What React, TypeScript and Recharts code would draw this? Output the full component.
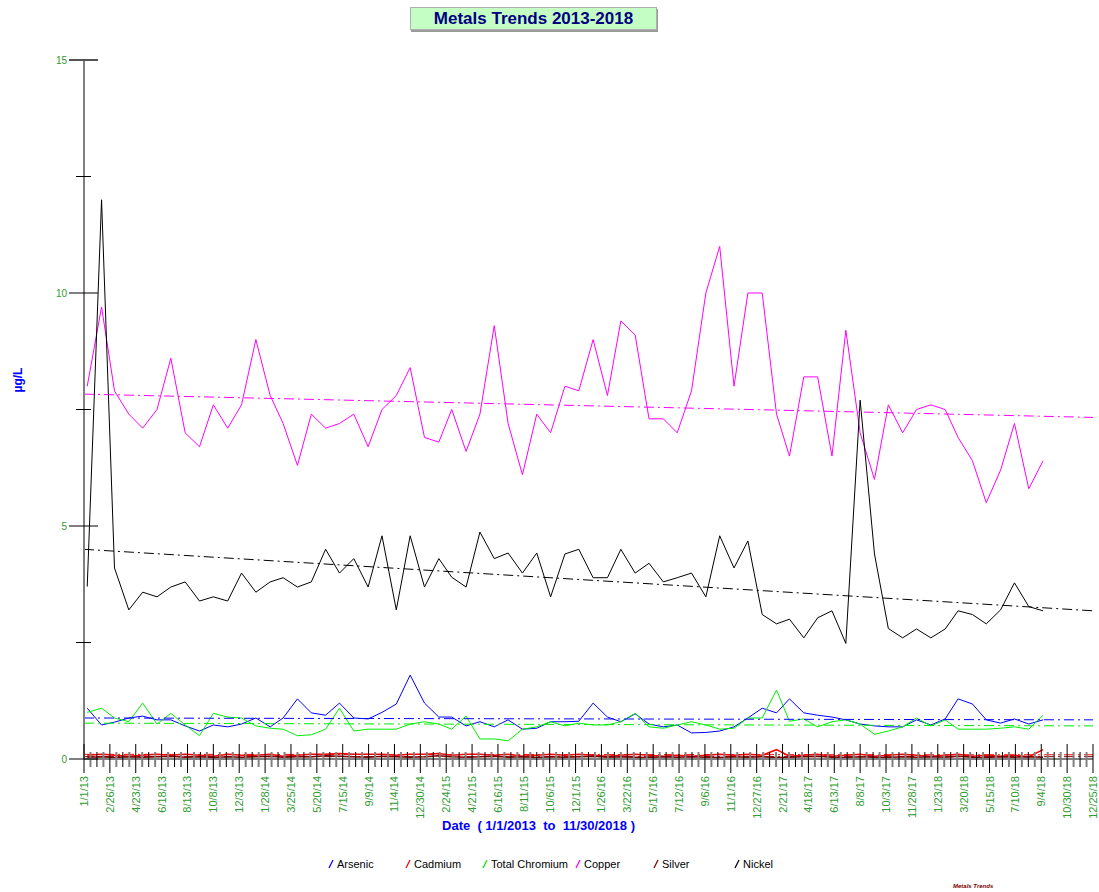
import React from 'react';
import { LineChart, Line, XAxis, YAxis } from 'recharts';

// monthly samples Jan 2013 .. Sep 2018
const SAMPLE_COUNT = 69;

const arsenic = [
  1.09, 0.73, 0.79, 0.88, 0.92, 0.84, 0.84, 0.71, 0.6, 0.73, 0.69, 0.75,
  0.88, 0.69, 0.88, 1.29, 0.99, 0.94, 1.2, 0.88, 0.86, 1.0, 1.18, 1.8,
  1.2, 0.9, 0.9, 0.71, 0.8, 0.69, 0.84, 0.64, 0.66, 0.8, 0.8, 0.81,
  1.2, 0.9, 0.8, 0.97, 0.75, 0.69, 0.73, 0.56, 0.57, 0.6, 0.69, 0.88,
  1.09, 0.99, 1.29, 0.99, 0.94, 0.9, 0.84, 0.75, 0.71, 0.69, 0.69, 0.84,
  0.73, 0.86, 1.29, 1.18, 0.84, 0.77, 0.86, 0.75, 0.84,
];

const cadmium = [
  0.08, 0.1, 0.08, 0.06, 0.08, 0.1, 0.08, 0.1, 0.08, 0.06, 0.1, 0.08,
  0.08, 0.1, 0.06, 0.08, 0.1, 0.1, 0.12, 0.1, 0.1, 0.1, 0.08, 0.1,
  0.1, 0.12, 0.08, 0.1, 0.1, 0.08, 0.1, 0.06, 0.08, 0.1, 0.08, 0.1,
  0.08, 0.06, 0.08, 0.1, 0.08, 0.06, 0.08, 0.06, 0.08, 0.1, 0.08, 0.1,
  0.08, 0.2, 0.06, 0.08, 0.1, 0.06, 0.08, 0.1, 0.06, 0.08, 0.1, 0.08,
  0.06, 0.08, 0.1, 0.06, 0.08, 0.06, 0.08, 0.05, 0.2,
];

const chromium = [
  1.0, 1.09, 0.88, 0.8, 1.2, 0.75, 0.98, 0.73, 0.5, 0.98, 0.9, 0.88,
  0.71, 0.66, 0.64, 0.5, 0.52, 0.64, 1.09, 0.6, 0.64, 0.64, 0.64, 0.75,
  0.8, 0.75, 0.64, 0.92, 0.43, 0.43, 0.39, 0.64, 0.69, 0.8, 0.71, 0.77,
  0.73, 0.73, 0.8, 0.98, 0.69, 0.66, 0.73, 0.8, 0.73, 0.64, 0.66, 0.88,
  0.88, 1.48, 0.81, 0.86, 0.69, 0.8, 0.84, 0.75, 0.53, 0.6, 0.69, 0.88,
  0.71, 0.84, 0.64, 0.64, 0.64, 0.66, 0.69, 0.64, 0.94,
];

const copper = [
  8.0, 9.7, 7.9, 7.4, 7.1, 7.5, 8.6, 7.0, 6.7, 7.6, 7.1, 7.6,
  9.0, 7.8, 7.2, 6.3, 7.4, 7.1, 7.2, 7.4, 6.7, 7.5, 7.8, 8.4,
  6.9, 6.8, 7.5, 6.6, 7.4, 9.3, 7.2, 6.1, 7.4, 7.0, 8.0, 7.9,
  9.0, 7.8, 9.4, 9.1, 7.3, 7.3, 7.0, 7.9, 10.0, 11.0, 8.0, 10.0,
  10.0, 7.4, 6.5, 8.2, 8.2, 6.5, 9.2, 7.0, 6.0, 7.6, 7.0, 7.5,
  7.6, 7.5, 6.9, 6.4, 5.5, 6.2, 7.2, 5.8, 6.4,
];

const silver = [
  0.04, 0.05, 0.03, 0.05, 0.04, 0.05, 0.06, 0.04, 0.05, 0.03, 0.05, 0.04,
  0.05, 0.06, 0.04, 0.05, 0.05, 0.07, 0.06, 0.05, 0.04, 0.06, 0.05, 0.04,
  0.05, 0.07, 0.05, 0.04, 0.05, 0.06, 0.04, 0.05, 0.03, 0.05, 0.04, 0.05,
  0.06, 0.04, 0.05, 0.04, 0.03, 0.05, 0.04, 0.05, 0.04, 0.03, 0.05, 0.04,
  0.05, 0.03, 0.04, 0.05, 0.06, 0.04, 0.03, 0.05, 0.04, 0.03, 0.05, 0.04,
  0.05, 0.04, 0.06, 0.04, 0.03, 0.05, 0.04, 0.05, 0.04,
];

const nickel = [
  3.7, 12.0, 4.1, 3.2, 3.58, 3.48, 3.69, 3.8, 3.39, 3.48, 3.39, 3.99,
  3.58, 3.8, 3.89, 3.69, 3.8, 4.5, 3.99, 4.3, 3.69, 4.79, 3.2, 4.79,
  3.69, 4.3, 3.9, 3.69, 4.87, 4.3, 4.42, 3.99, 4.42, 3.48, 4.4, 4.5,
  3.89, 3.89, 4.5, 3.99, 4.2, 3.8, 3.89, 3.99, 3.48, 4.79, 4.1, 4.68,
  3.1, 2.9, 3.0, 2.6, 3.03, 3.18, 2.48, 7.7, 4.4, 2.8, 2.6, 2.79,
  2.6, 2.79, 3.18, 3.1, 2.9, 3.2, 3.78, 3.27, 3.18,
];

// trend line end points [start, end] over the full axis range
const arsenicTrend = [0.88, 0.84];
const cadmiumTrend = [0.1, 0.09];
const chromiumTrend = [0.77, 0.71];
const copperTrend = [7.83, 7.33];
const silverTrend = [0.05, 0.05];
const nickelTrend = [4.5, 3.18];

const TICK_LABELS = [
  '1/1/13', '2/26/13', '4/23/13', '6/18/13', '8/13/13', '10/8/13', '12/3/13',
  '1/28/14', '3/25/14', '5/20/14', '7/15/14', '9/9/14', '11/4/14', '12/30/14',
  '2/24/15', '4/21/15', '6/16/15', '8/11/15', '10/6/15', '12/1/15',
  '1/26/16', '3/22/16', '5/17/16', '7/12/16', '9/6/16', '11/1/16', '12/27/16',
  '2/21/17', '4/18/17', '6/13/17', '8/8/17', '10/3/17', '11/28/17',
  '1/23/18', '3/20/18', '5/15/18', '7/10/18', '9/4/18', '10/30/18', '12/25/18',
];
const Y_TICKS = [0, 2.5, 5, 7.5, 10, 12.5, 15];

const TICK_STEP = 14;
const LAST_DAY = (TICK_LABELS.length - 1) * 56;
const X_TICKS = Array.from({ length: LAST_DAY / TICK_STEP + 1 }, (_, i) => i * TICK_STEP);

const DAY_MS = 86400000;
const dayOf = (i: number) => (Date.UTC(2013, i, 8) - Date.UTC(2013, 0, 1)) / DAY_MS;

const series = [
  { key: 'arsenic', name: 'Arsenic', color: '#0000ff', values: arsenic, trend: arsenicTrend },
  { key: 'cadmium', name: 'Cadmium', color: '#ff0000', values: cadmium, trend: cadmiumTrend },
  { key: 'chromium', name: 'Total Chromium', color: '#00ee00', values: chromium, trend: chromiumTrend },
  { key: 'copper', name: 'Copper', color: '#ff00ff', values: copper, trend: copperTrend },
  { key: 'silver', name: 'Silver', color: '#800000', values: silver, trend: silverTrend },
  { key: 'nickel', name: 'Nickel', color: '#000000', values: nickel, trend: nickelTrend },
];

// trend end rows at both ends of the axis, sample rows in between
const trendRow = (day: number, end: number) => {
  const row: Record<string, number> = { day };
  series.forEach((s) => (row[s.key + 'Trend'] = s.trend[end]));
  return row;
};

const data = [
  trendRow(0, 0),
  ...Array.from({ length: SAMPLE_COUNT }, (_, i) => {
    const row: Record<string, number> = { day: dayOf(i) };
    series.forEach((s) => (row[s.key] = s.values[i]));
    return row;
  }),
  trendRow(LAST_DAY, 1),
];

const legendX = [328, 405, 482, 575, 653, 734];

const PLOT_LEFT = 84;
const LABEL_GREEN = '#2f9a2f';
const FONT = 'Liberation Sans, Arial, sans-serif';

const XTick = (props: any) => {
  const { x, y, index } = props;
  const major = index % 4 === 0;
  const label = major ? TICK_LABELS[index / 4] : null;
  return (
    <g>
      {major ? (
        <line x1={x} x2={x} y1={y - 15} y2={y + 14} stroke="#000" strokeWidth={1} />
      ) : (
        <line x1={x} x2={x} y1={y - 7} y2={y + 8} stroke={index % 2 === 0 ? '#000' : '#808080'} strokeWidth={index % 2 === 0 ? 1 : 2} />
      )}
      {label && (
        <text
          x={x + 4}
          y={y + 17}
          transform={`rotate(-90, ${x + 4}, ${y + 17})`}
          textAnchor="end"
          fontSize={11}
          fontFamily={FONT}
          fill={LABEL_GREEN}
        >
          {label}
        </text>
      )}
    </g>
  );
};

const YTick = (props: any) => {
  const { y, payload } = props;
  const v = payload.value;
  const major = v % 5 === 0;
  return (
    <g>
      {major ? (
        <line x1={PLOT_LEFT - 15} x2={PLOT_LEFT + 14} y1={y} y2={y} stroke={v === 15 ? '#555' : '#000'} strokeWidth={v === 15 ? 2 : 1} />
      ) : (
        <line x1={PLOT_LEFT - 8} x2={PLOT_LEFT + 7} y1={y} y2={y} stroke="#000" strokeWidth={1} />
      )}
      {major && (
        <text x={PLOT_LEFT - 17} y={y + 4} textAnchor="end" fontSize={10} fontFamily={FONT} fill={LABEL_GREEN}>
          {v}
        </text>
      )}
    </g>
  );
};

export default function App() {
  return (
    <div style={{ position: 'absolute', left: 0, top: 0, width: 1099, height: 892, background: '#fff', fontFamily: FONT }}>
      <div
        style={{
          position: 'absolute',
          left: 410,
          top: 7,
          width: 245,
          height: 21,
          background: '#c4fec4',
          border: '1px solid #b0b0b0',
          boxShadow: '1px 2px 0 #9a9a9a',
          textAlign: 'center',
          lineHeight: '21px',
          fontFamily: '"Liberation Sans Narrow", Arial, sans-serif',
          fontWeight: 'bold',
          fontSize: 17,
          color: '#000080',
        }}
      >
        Metals Trends 2013-2018
      </div>

      <LineChart width={1099} height={892} data={data} margin={{ top: 60, right: 6, bottom: 73, left: 0 }}>
        <XAxis
          dataKey="day"
          type="number"
          domain={[0, LAST_DAY]}
          ticks={X_TICKS}
          interval={0}
          tick={(p: any) => <XTick {...p} />}
          tickLine={false}
          tickSize={0}
          tickMargin={0}
          height={60}
          axisLine={{ stroke: '#808080', strokeWidth: 2 }}
        />
        <YAxis
          type="number"
          domain={[0, 15]}
          ticks={Y_TICKS}
          interval={0}
          tick={(p: any) => <YTick {...p} />}
          tickLine={false}
          tickSize={0}
          width={84}
          axisLine={{ stroke: '#808080', strokeWidth: 2 }}
        />
        {series.map((s) => (
          <Line
            key={s.key}
            dataKey={s.key}
            stroke={s.color}
            strokeWidth={s.key === 'cadmium' || s.key === 'silver' ? 1.5 : 1}
            connectNulls
            dot={false}
            isAnimationActive={false}
          />
        ))}
        {series.map((s) => (
          <Line
            key={s.key + '-trend'}
            dataKey={s.key + 'Trend'}
            stroke={s.color}
            strokeWidth={1}
            strokeDasharray="10 4 2 4"
            connectNulls
            dot={false}
            isAnimationActive={false}
          />
        ))}
      </LineChart>

      <div
        style={{
          position: 'absolute',
          left: 4,
          top: 380,
          transform: 'translate(-50%, -50%) rotate(-90deg)',
          marginLeft: 14,
          color: '#0000ff',
          fontWeight: 'bold',
          fontSize: 12,
          whiteSpace: 'nowrap',
        }}
      >
        µg/L
      </div>

      <div
        style={{
          position: 'absolute',
          left: 0,
          width: 1077,
          top: 818,
          textAlign: 'center',
          color: '#0000ff',
          fontWeight: 'bold',
          fontSize: 13,
          whiteSpace: 'pre',
        }}
      >
        {'Date  ( 1/1/2013  to  11/30/2018 )'}
      </div>

      {series.map((s, i) => (
        <div
          key={s.key + '-legend'}
          style={{ position: 'absolute', left: legendX[i], top: 858, fontSize: 11, color: '#000', whiteSpace: 'nowrap' }}
        >
          <svg width={6} height={10} style={{ marginRight: 3, verticalAlign: '-1px' }}>
            <line x1={1} y1={9} x2={5} y2={1} stroke={s.color} strokeWidth={1.2} />
          </svg>
          {s.name}
        </div>
      ))}

      <div
        style={{
          position: 'absolute',
          left: 953,
          top: 883,
          fontSize: 6,
          fontWeight: 'bold',
          fontStyle: 'italic',
          color: '#800000',
          whiteSpace: 'nowrap',
        }}
      >
        Metals Trends
      </div>
    </div>
  );
}
